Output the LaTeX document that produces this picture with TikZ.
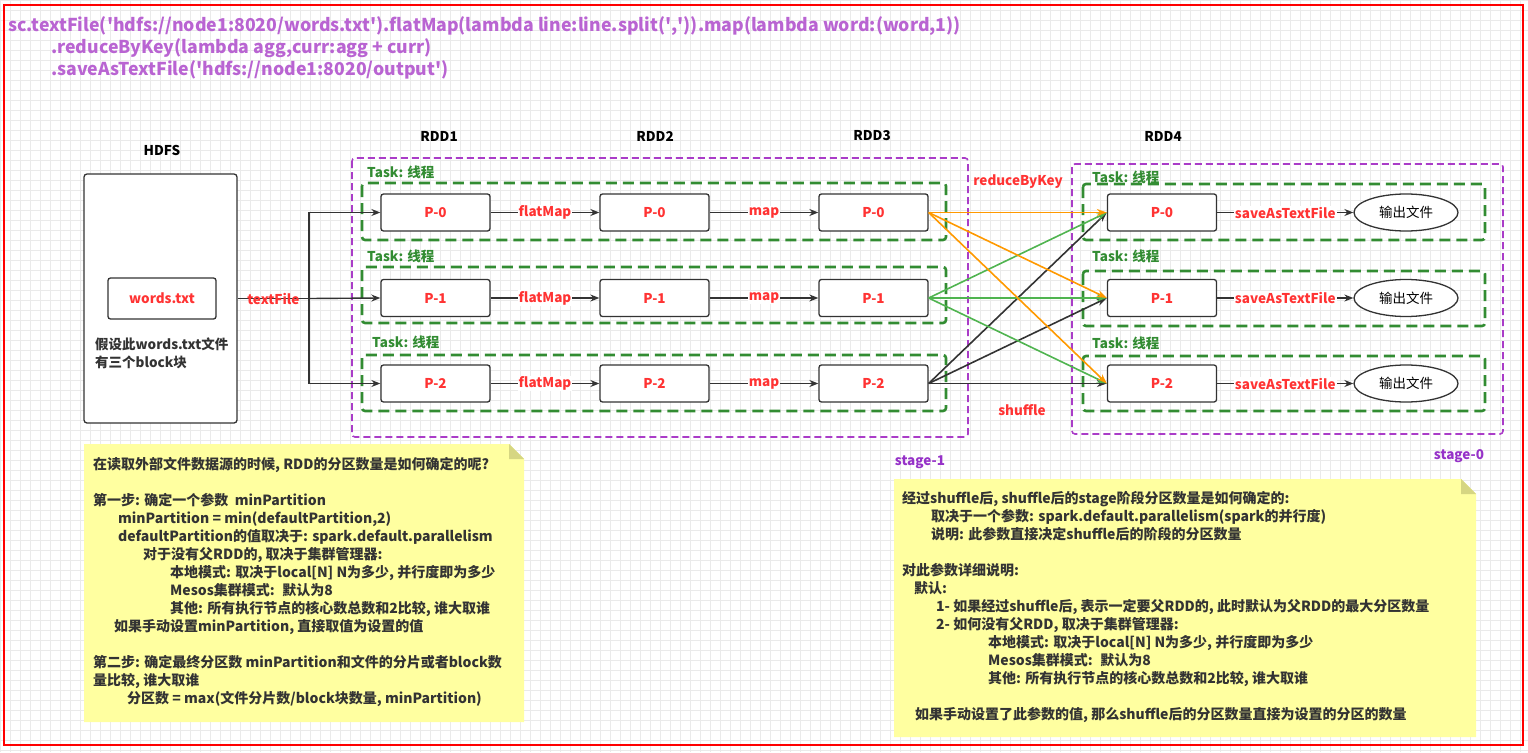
\documentclass[tikz,border=0pt]{standalone}
\usepackage{fontspec}
\setmainfont{Noto Sans CJK SC}
\usetikzlibrary{arrows.meta,positioning,shapes.geometric}

\definecolor{hired}{RGB}{255,51,51}
\definecolor{taskgreen}{RGB}{50,140,50}
\definecolor{linegreen}{RGB}{80,180,80}
\definecolor{lineorange}{RGB}{255,153,0}
\definecolor{stagepurple}{RGB}{170,60,200}
\definecolor{labelpurple}{RGB}{150,50,200}
\definecolor{codepurple}{RGB}{185,100,210}
\definecolor{boxgray}{RGB}{51,51,51}
\definecolor{notefill}{RGB}{255,255,160}
\definecolor{notefold}{RGB}{214,214,130}
\definecolor{gridgray}{RGB}{234,234,234}
\newcommand{\sq}{\textquotesingle}

\begin{document}
\begin{tikzpicture}[x=1pt,y=-1pt,
  txt/.style={font=\bfseries\fontsize{13.5}{15}\selectfont,inner sep=1pt},
  part/.style={txt,draw=boxgray,line width=1.3pt,rounded corners=2.5pt,
    minimum width=109pt,minimum height=37pt,text=hired,fill=white},
  taskbox/.style={draw=taskgreen,line width=2.6pt,dash pattern=on 11pt off 6pt,rounded corners=3pt},
  stagebox/.style={draw=stagepurple,line width=1.6pt,dash pattern=on 7pt off 4pt,rounded corners=3pt},
  tasklbl/.style={txt,text=taskgreen,anchor=west},
  oplbl/.style={txt,text=hired,fill=white},
  flow/.style={draw=boxgray,line width=1.4pt,-{Stealth[length=9pt,width=7pt]}},
  shuf/.style={line width=1.6pt,-{Stealth[length=10pt,width=7pt]}},
  code/.style={font=\bfseries\fontsize{17.7}{20}\selectfont,text=codepurple,anchor=west,inner sep=0pt},
  note/.style={font=\bfseries\fontsize{14}{18}\selectfont,text=boxgray,align=left,anchor=north west,inner sep=0pt}
]
  \useasboundingbox (0,0) rectangle (1528,752);
  % grid of the canvas
  \foreach \gx in {0,10,...,1520} \draw[gridgray,line width=0.6pt] (\gx,0) -- (\gx,752);
  \foreach \gy in {0,10,...,750} \draw[gridgray,line width=0.6pt] (0,\gy) -- (1528,\gy);
  \draw[red,line width=1.5pt] (4,5) rectangle (1523,745);

  % code
  \node[code] (line1) at (8,26) {sc.textFile(\sq hdfs://node1:8020/words.txt\sq).flatMap(lambda line:line.split(\sq,\sq)).map(lambda word:(word,1))};
  \node[code] (line2) at (51,48) {.reduceByKey(lambda agg,curr:agg + curr)};
  \node[code] (line3) at (51,70) {.saveAsTextFile(\sq hdfs://node1:8020/output\sq)};

  % notes
  \fill[notefill] (84,444) -- (509,444) -- (524,459) -- (524,722) -- (84,722) -- cycle;
  \fill[notefold] (509,444) -- (524,459) -- (509,459) -- cycle;
  \fill[notefill] (894,479) -- (1461,479) -- (1476,494) -- (1476,737) -- (894,737) -- cycle;
  \fill[notefold] (1461,479) -- (1476,494) -- (1461,494) -- cycle;

  \node[note] (note1) at (93,457) {在读取外部文件数据源的时候, RDD的分区数量是如何确定的呢?\\[18pt]
    第一步: 确定一个参数 \ minPartition\\
    \hspace*{25pt}minPartition = min(defaultPartition,2)\\
    \hspace*{25pt}defaultPartition的值取决于: spark.default.parallelism\\
    \hspace*{50pt}对于没有父RDD的, 取决于集群管理器:\\
    \hspace*{77pt}本地模式: 取决于local[N] N为多少, 并行度即为多少\\
    \hspace*{77pt}Mesos集群模式: \ 默认为8\\
    \hspace*{77pt}其他: 所有执行节点的核心数总数和2比较, 谁大取谁\\
    \hspace*{21pt}如果手动设置minPartition, 直接取值为设置的值\\[18pt]
    第二步: 确定最终分区数 minPartition和文件的分片或者block数\\
    量比较, 谁大取谁\\
    \hspace*{34pt}分区数 = max(文件分片数/block块数量, minPartition)};

  \node[note] (note2) at (902,491) {经过shuffle后, shuffle后的stage阶段分区数量是如何确定的:\\
    \hspace*{29pt}取决于一个参数: spark.default.parallelism(spark的并行度)\\
    \hspace*{29pt}说明: 此参数直接决定shuffle后的阶段的分区数量\\[18pt]
    对此参数详细说明:\\
    \hspace*{12pt}默认:\\
    \hspace*{34pt}1- 如果经过shuffle后, 表示一定要父RDD的, 此时默认为父RDD的最大分区数量\\
    \hspace*{34pt}2- 如何没有父RDD, 取决于集群管理器:\\
    \hspace*{86pt}本地模式: 取决于local[N] N为多少, 并行度即为多少\\
    \hspace*{86pt}Mesos集群模式: \ 默认为8\\
    \hspace*{86pt}其他: 所有执行节点的核心数总数和2比较, 谁大取谁\\[18pt]
    \hspace*{13pt}如果手动设置了此参数的值, 那么shuffle后的分区数量直接为设置的分区的数量};

  % HDFS
  \node[txt] (hdfslbl) at (162,150) {HDFS};
  \node[draw=boxgray,line width=1.3pt,rounded corners=3pt,fill=white,
    minimum width=153pt,minimum height=249pt] (hdfs) at (160.5,298.5) {};
  \node[part,minimum width=108pt,minimum height=41pt] (words) at (162,298.5) {words.txt};
  \node[note,font=\bfseries\fontsize{13.5}{18}\selectfont] (blocks) at (95,337.5) {假设此words.txt文件\\有三个block块};

  % stages and tasks
  \draw[stagebox] (352,158) rectangle (968,437);
  \draw[stagebox] (1072,164) rectangle (1503,434);
  \foreach \top/\bot in {183/240,267/323,355/411}
    \draw[taskbox] (362,\top) rectangle (946,\bot);
  \foreach \top/\bot in {184/240,271/326,356/411}
    \draw[taskbox] (1083,\top) rectangle (1485,\bot);
  \foreach \x/\y in {366/172,366/256,371/342}
    \node[tasklbl] at (\x,\y) {Task: 线程};
  \foreach \y in {177,256,343}
    \node[tasklbl] at (1091,\y) {Task: 线程};

  \node[txt] (rdd1) at (439,136) {RDD1};
  \node[txt] (rdd2) at (655,136) {RDD2};
  \node[txt] (rdd3) at (872,136) {RDD3};
  \node[txt] (rdd4) at (1163,136) {RDD4};
  \node[txt,text=labelpurple] (stage1) at (920,462) {stage-1};
  \node[txt,text=labelpurple] (stage0) at (1459,456) {stage-0};

  % partitions
  \foreach \r/\y in {0/212.5,1/298,2/383.5} {
    \node[part] (rdd1p\r) at (435.5,\y) {P-\r};
    \node[part] (rdd2p\r) at (654.5,\y) {P-\r};
    \node[part] (rdd3p\r) at (873.5,\y) {P-\r};
    \node[part] (rdd4p\r) at (1162,\y) {P-\r};
    \node[ellipse,draw=boxgray,line width=1.3pt,fill=white,minimum width=104pt,
      minimum height=37pt,font=\fontsize{13.5}{15}\selectfont] (file\r) at (1406,\y) {输出文件};
    \draw[flow] (rdd1p\r) -- node[oplbl]{flatMap} (rdd2p\r);
    \draw[flow] (rdd2p\r) -- node[oplbl]{map} (rdd3p\r);
    \draw[flow] (rdd4p\r) -- node[oplbl]{saveAsTextFile} (file\r);
  }

  % textFile
  \coordinate (split) at (309,298.5);
  \draw[boxgray,line width=1.4pt] (hdfs.east) -- node[txt,text=hired]{textFile} (split);
  \draw[flow] (split) |- (rdd1p0.west);
  \draw[flow] (split) -- (rdd1p1.west);
  \draw[flow] (split) |- (rdd1p2.west);

  % shuffle
  \foreach \t in {0,1,2} {
    \draw[shuf,boxgray] (rdd3p2.east) -- (rdd4p\t.west);
    \draw[shuf,linegreen] (rdd3p1.east) -- (rdd4p\t.west);
    \draw[shuf,lineorange] (rdd3p0.east) -- (rdd4p\t.west);
  }
  \node[txt,text=hired] (reduce) at (1018,182) {reduceByKey};
  \node[txt,text=hired] (shufflelbl) at (1022,410) {shuffle};
\end{tikzpicture}
\end{document}
